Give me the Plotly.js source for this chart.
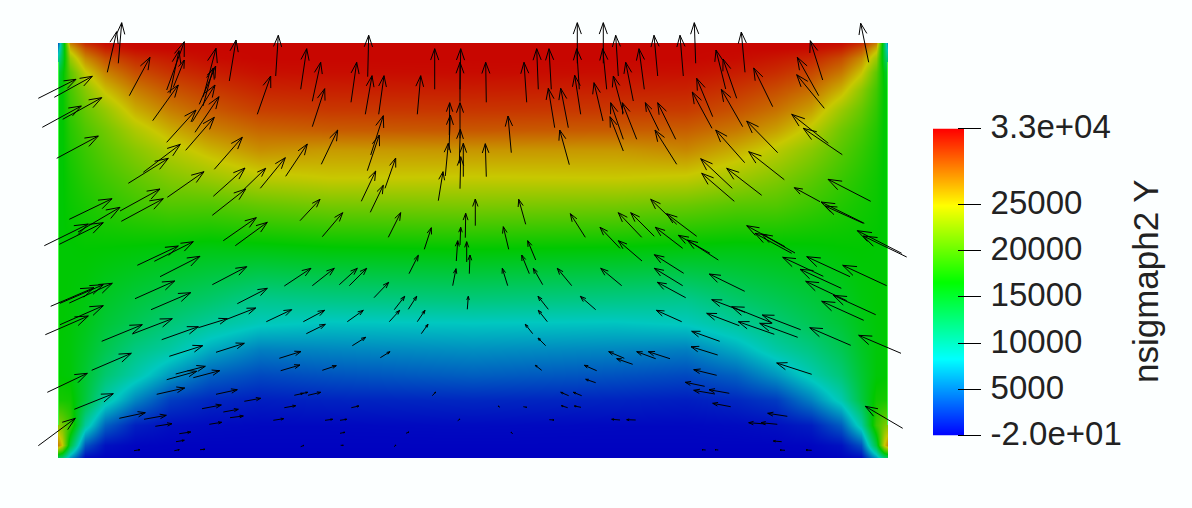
<!DOCTYPE html>
<html><head><meta charset="utf-8">
<script src="https://cdn.plot.ly/plotly-3.0.0.min.js"></script>
<style>html,body{margin:0;padding:0;background:#fcffff}</style></head>
<body><div id="chart" style="width:1192px;height:508px"></div>
<script>
// Field sample positions
const fieldX = [58,62,70,85,105,135,170,210,260,330,473,616,686,736,776,811,841,861,876,884,888];
const fieldY = [43,48,58,72,90,110,130,150,178,205,250,300,323,350,375,400,425,445,458];
// Field values in thousands, one list per column of fieldX, top to bottom
const col058 = [4,6,10,14,16,16.5,16.5,16.5,16.5,16.5,16.5,16.5,16.5,16.5,16.6,17.5,22.5,28,12];
const col062 = [13,13,14,16,16.5,16.5,16.5,16.5,16.5,16.5,16.5,16.5,16.5,16.4,16.5,17.5,21.5,25,11];
const col070 = [28,26,23,20.5,19.5,18.8,18.2,17.8,17.3,17,16.5,16.4,16.3,16.2,16.3,17.3,19,14,6];
const col085 = [31.5,30,27.5,24.7,22.2,20.8,19.8,19,18.3,17.6,16.6,16,15.6,15,14.5,14,9.8,3.5,0.3];
const col105 = [32.8,32,30,27.8,25.3,22.8,21.3,20.4,19.3,18.3,16.5,15,14.3,13.2,11.8,9.4,4,0.7,0.1];
const col135 = [33,32.8,31.5,30,28,26,23.8,22.2,20.6,19.2,16.3,14,13,11,9.3,5.5,1.3,0.2,0];
const col170 = [33,33,32.2,31.2,29.7,28,26,24,22,20,16,13,11.5,9.5,6.3,2.5,0.6,0.1,0];
const col210 = [33,33,32.8,32,30.8,29.5,27.8,25.7,23,20,15.7,12,10,7,4,1.6,0.4,0.1,0];
const col260 = [33,33,33,32.6,31.7,30.6,29,27.3,24.3,20.8,15.8,10.5,8.6,5.2,3,1.2,0.3,0.1,0];
const col330 = [33,33,33,32.7,31.9,30.9,29.4,26.8,24.9,21.5,16.2,10.8,8.1,5.5,3.4,1.4,0.3,0.1,0];
const col473 = [33,33,33,32.8,32,31,29.6,27,24.75,21.8,16.5,11.2,8.25,5.9,3.9,1.6,0.4,0.1,0];
const col616 = [33,33,33,32.7,31.9,30.9,29.4,26.9,24.9,21.5,16.2,10.8,8.1,5.5,3.4,1.4,0.3,0.1,0];
const col686 = [33,33,33,32.6,31.8,30.8,29.3,27.6,24.6,21,15.9,10.5,8.5,5.2,3,1.2,0.3,0.1,0];
const col736 = [33,33,32.8,32.1,31,29.8,28.2,26,23.3,20.2,15.8,12,10,7,4,1.6,0.4,0.1,0];
const col776 = [33,33,32.3,31.4,30,28.5,26.6,24.3,22,20,16,13,11.6,9.4,6.2,2.4,0.6,0.1,0];
const col811 = [33,32.8,31.7,30.3,28.6,26.6,24.3,22.3,20.5,19,16.2,14,13,11,9,5.3,1.2,0.2,0];
const col841 = [32.8,32,30.1,28.3,25.8,23,21.2,20.2,19,18,16.5,15,14.3,13,11.5,9,3.8,0.7,0.1];
const col861 = [31.5,30,27.5,25.2,22.4,20.8,19.6,18.8,18,17.4,16.6,16,15.6,15,14.4,13.8,9.5,3.3,0.3];
const col876 = [28,26,23,20.5,19.3,18.6,18,17.6,17.2,17,16.5,16.4,16.3,16.2,16.3,17.3,19,14,6];
const col884 = [13,13,14,16,16.5,16.5,16.5,16.5,16.5,16.5,16.5,16.5,16.5,16.4,16.5,17.5,21.5,25,11];
const col888 = [4,6,10,14,16,16.5,16.5,16.5,16.5,16.5,16.5,16.5,16.5,16.5,16.6,17.5,22.5,28,12];
const fieldColumns = [col058,col062,col070,col085,col105,col135,col170,col210,col260,col330,col473,col616,col686,col736,col776,col811,col841,col861,col876,col884,col888];

// Arrows: [tail x, tail y, tip x, tip y]
const arrows = [
[38.3,98.3,76,79.3],[54.3,97.3,92.3,76.3],[42.3,127.3,81.3,106],[62.7,119.3,101.7,97.7],[56.7,158.3,98.3,136],
[107.3,72.3,116.7,31.7],[118.3,63.3,121.7,22.7],[129.3,95.7,150,57.3],[166.7,90,184.3,41.7],[170,93.3,179,50.7],
[173.3,87.3,184.3,60],[152.7,120.7,178.3,85],[166.7,142.3,196,110],[185.7,150.3,214.3,117.3],[192.3,121.7,215,85],
[195,132.3,219,96.7],[199.3,104.3,215.7,66],[203.3,96.7,216,48.3],[203,106,213.3,68],[229.3,81,236,40],
[257.3,114.3,270.7,76],[275.7,76,278.3,35.3],[214.3,169.3,242.3,137.3],[143.3,172.3,180.3,144.3],[128.3,183.3,168.3,158.3],
[167.3,197.3,204,171.7],[213.3,196.3,245,168],[212.3,215.3,245.7,189],[243.3,190,265.7,168.3],[260.3,188.3,285.3,157.7],
[285.7,176.3,307.3,144],[69.3,219.3,112,198.7],[120,211,160,189],[121.3,221.3,163.3,198.7],[78,232,120,207.3],
[44.3,245.7,88.3,224],[59.3,244.3,103.3,222.7],[223.3,240.7,256.3,217.7],[235.3,245.7,267.3,222.3],[137.3,265.3,178.3,246],
[154.3,261.3,193.3,241.7],[160,276.7,200,256.3],[212.3,284.7,246.7,266.7],[284.3,286,311,268.3],[135,298.7,174.7,281],
[151,309.7,190.7,292.7],[237.3,303.7,267.3,288.3],[50.7,306.3,94,287.7],[60,303.3,103.3,284.7],[69.3,303,112.3,283.3],
[60,324.7,103.3,305.7],[45.3,334.7,88.3,316],[101.7,341.3,142.3,324.7],[132.3,334,172.3,318.7],[161.7,339.7,198.3,326.7],
[198.3,327.7,227.3,318.7],[226.7,319.3,255.7,308],[266.3,321.7,291.7,309.7],[169.3,356.3,202.7,345.7],[216,352.3,244.3,343.3],
[91.7,370.3,131.3,353.3],[47.3,392.3,87.3,373.3],[74.3,409.3,113.3,393.7],[38.3,445.7,75.3,418.3],[166.7,379.7,196.7,371.3],
[175.7,374,205.3,366.3],[193.3,377.7,219.7,370.7],[156.7,394.3,184.7,388],[216,394.3,237.3,389.7],[244.3,401.3,260.7,398.3],
[279.3,358.3,301,351.5],[280.7,370.7,300,365],[119.3,418.3,145.3,412.7],[144,419.3,166.3,415.3],[202,408.7,221.3,405],
[223.3,412,238.3,409.3],[230,417.7,243.3,416],[155.3,426.3,172,423.7],[209.3,424.3,221.7,422.3],[179.3,433.7,190.7,432],
[176,441.7,184.3,440.3],[134,450.7,140,449.7],[174.3,450.7,179.3,449.7],[200,449.7,205,449.3],[273.3,420.3,283.7,418.7],
[284.3,407.7,295.7,405.7],[294.3,395.3,303.3,393.3],
[300.7,89.3,306.7,48.7],[312.3,101.3,320.7,62.3],[312.3,126.7,324.7,88.7],[351,102.3,356.7,62.3],[367.7,76.7,368.7,35.3],
[365.3,114.3,372,75.7],[378.7,114.3,384,75.7],[417.3,114.3,420.7,75.7],[434.7,89.3,434.7,48.7],[460,89.3,460.7,48.7],
[460,101.7,460,62.3],[486.3,102.3,485.7,62.3],[526.7,102.3,524,62.3],[538.3,89.3,536.7,48.7],[551.3,89.3,549,48.7],
[580.7,114.3,574.7,75.3],[579.3,89.3,576.7,48.7],[577.3,63.3,577.3,22.7],[554.7,127.7,548.3,88.3],[568.3,127.7,560.7,88.3],
[603,121,594,82.7],[321.3,164.3,337.7,130],[367.3,170.7,379.3,135],[370.7,155,383.3,115.7],[361.3,201.3,375.7,171],
[385,188.3,395.7,158],[370.3,212.3,383.3,185.3],[300,220.7,320,199.3],[322.3,236.7,342.7,212.7],[388.3,237.3,400.7,212.7],
[424.3,249.3,431.3,227.7],[438.3,200.7,443,171.7],[445.3,176,448.3,143.3],[449,150,450.3,115],[449.3,135,449.7,102.7],
[460,138.3,460,102.7],[460,188.7,460.7,156.7],[463.3,176.7,463.3,143.3],[459.3,163.3,460.3,129.3],[486.3,176.7,485.3,143.7],
[511.3,152.7,508,116],[569.3,164.7,559.7,130],[475.3,225.7,475.3,199],[465.3,237.7,465.7,213.3],[525.7,224.3,518.7,199.3],
[585.3,237.3,570.3,213.7],[508.7,249.3,503.3,226.7],[460,245,460.7,227.3],[456.3,261,457.7,240.7],[466.7,262,466.7,241.7],
[535.7,260,527.7,240.7],
[312.3,285.7,334.3,268.3],[339.3,284.7,357.3,268.3],[349.3,285.7,366.7,268.3],[409,273.7,418.3,255.3],[452.7,285.7,456,268.7],
[469.3,273.7,470,255],[529.3,273.7,521.7,255],[507.7,285.7,502.3,268.3],[542.7,284.7,533.3,268.3],[571.7,285.7,557.3,268.3],
[374,297.7,388.7,282.3],[394.3,309.7,404.7,296.3],[408.3,309.3,416.7,296.3],[467.3,309.3,468.3,296.3],[548.3,309.3,538,296.3],
[595.7,309.7,580.3,296.3],[303.3,321.7,324.7,310.3],[347.3,321.7,363.3,310.3],[389.3,321.7,399.7,310.3],[417.3,321.7,425,310.3],
[547.3,321.7,538.3,310.3],[306.3,333.7,325.3,324.3],[421.3,333.7,428,324.3],[532.7,333.7,525.3,324.3],[352.3,345.7,365.7,337.3],
[545.7,345.7,538,338],[380.3,357.7,390,351.7],[322.3,370.3,336.3,365.7],[541.7,370.3,535.3,365.3],[596.7,370.7,584.3,365.3],
[595.7,382.7,585.7,379.3],[308,395.3,320.7,392.3],[300,394,307.7,392.3],[432.3,395.7,435.7,392],[568.7,395.7,560.7,392.3],
[581.7,395.7,573.3,392.3],[351.3,407.7,359,406],[567.7,407.7,561.3,405.7],[581,407.3,574.3,406],[325,420.3,332.7,419.3],
[340,420.3,346.7,419.3],[549.3,419.7,554,420],[340,433.3,345,432.3],[406,433.3,409,432],[457.7,420.7,460,419],
[512.7,434,511,432],[523.3,406.7,526.7,407.3],[500,407.3,498,406],[394,446.7,396,445],[340.7,445.3,343.3,445.3],[300.7,446.7,304,445.3],
[603.3,63.3,603.3,22.7],[606.7,89.3,602.7,48.7],[618.3,76,615.7,35.3],[633.3,101,625.7,62.3],[644.3,89.3,639,48.7],
[657.7,76,654,35.3],[683.3,76,680,35.3],[695.7,63.3,694.3,22.7],[745,72.3,741.3,32],[822.7,80,810.3,40.7],
[868.7,62.3,860.7,23.3],[725.7,89,716,50],[736.7,98.3,723,59],[772.7,106.7,753.7,68],[818.7,95.7,797.3,57.3],
[824.3,108.3,796.7,74.7],[712.7,116.7,696.7,78.3],[712,128.3,692.3,92],[742.7,126.7,721.3,89.3],[623.3,113.3,613.3,76],
[623.3,139.3,610.7,102.7],[636.7,139.3,622.3,102.7],[623.3,151,610,116.7],[659,130.7,645.3,102.7],[675.7,139.3,657.7,102.7],
[676.7,164.3,655,130],[777.7,152.7,746.7,121],[744.7,162.7,715.7,130],[784.3,179.7,748.7,151.7],[828.3,143.3,791.7,114.3],
[842.3,154.7,803.3,128.3],[732.3,188.3,700.7,158.7],[734.3,201.3,701.7,173.3],[761.7,195.3,726.7,168.3],[870.7,201.3,828,179.3],
[820,201.7,794.3,187.7],[864.3,223.3,821,202],[863.3,223.3,825,206],[676.7,224.3,650.7,199.3],[696.7,236.3,666.7,213.7],
[654.3,236.3,630.7,212.7],[641.7,237.3,618.3,212.7],[620,248.3,600,227.3],[682.7,248.3,655.3,227.3],[642,261,618.3,240.7],
[901.7,253.3,857.3,230.7],[906.7,257,863.3,236],[785,246.7,746.7,225.7],[791.7,253.3,755,233.3],[795,253,761.7,234],
[710,253.3,678.3,235.3],[718.3,260,687.3,240],
[621.7,285.7,600.7,268.3],[683.7,273.3,654.3,254.7],[682.7,285.7,654.3,268.3],[685.7,297.7,657.3,282.3],[744.7,291.3,709.3,274],
[681.7,321.7,656.3,310.3],[772.3,323,731.7,306.7],[745,312.3,711.7,299.7],[739.3,325.7,706.7,313.3],[774.3,334.3,738.3,321.7],
[800.7,329.7,762.3,315],[797.7,337.3,759.7,323.3],[719.7,341.3,691.7,331.3],[717.7,355,691,346.7],[716.7,375.3,693.7,369.7],
[850.7,345.3,809.7,327.7],[901,353.3,858.7,335.3],[811.7,374.3,776.7,363],[863.7,320.3,821.7,301.3],[875.7,314.7,833.3,295.3],
[850,276.7,806.7,256.7],[886.7,285.7,842.7,265.3],[823.3,276.3,782.7,257.3],[841.3,288.3,800,269.3],[846.7,300.7,805.7,281.3],
[670,358.7,648.3,351.7],[655.7,358.7,636.7,351.7],[624.3,358.3,608.7,351.7],[632.7,364.3,616.7,358.7],[704.7,386.3,685.3,382.3],
[729.3,393.3,709,389.7],[715,394,693.7,390.3],[730.7,406.7,712.7,403.3],[902.7,428.3,865.3,406.3],[787.3,416.3,767.7,413.3],
[777.3,424.3,761,422.7],[765.7,424,748.7,422.7],[781.7,441.7,773.3,441],[785,450.3,780,450],[811.7,450.3,806,450],
[620,420,611.7,419.3],[635.7,420,626.7,419.7],[705.7,450,702,449.7],[718.3,450,715,449.7]
];

// Bright rim along the two side edges of the field
const rimX = [58.5,58.5,null,887.5,887.5];
const rimY = [62,425,null,62,425];

// Colour scale
const scaleMin = -20, scaleMax = 33240;
const rampValues = [scaleMin, scaleMax];
const tickValues = [scaleMin,5000,10000,15000,20000,25000,scaleMax];
const tickLabels = ['-2.0e+01','5000','10000','15000','20000','25000','3.3e+04'];
const barColors = [[0,'rgb(0,0,255)'],[0.25,'rgb(0,255,255)'],[0.5,'rgb(0,255,0)'],[0.75,'rgb(255,255,0)'],[1,'rgb(255,0,0)']];
const litColors = [[0,'rgb(0,0,192)'],[0.25,'rgb(0,200,192)'],[0.5,'rgb(0,200,0)'],[0.75,'rgb(200,200,0)'],[1,'rgb(200,0,0)']];

const W = 1192, H = 508;
const FONT = '"Liberation Sans", Arial, sans-serif';
const ax = [], ay = [];
const HEAD_BACK = 0.28, HEAD_HALF = 0.10;
for (const [tx, ty, hx, hy] of arrows) {
  const dx = tx - hx, dy = ty - hy;
  const bx = hx + dx * HEAD_BACK, by = hy + dy * HEAD_BACK;
  ax.push(tx, hx, bx - dy * HEAD_HALF, null, hx, bx + dy * HEAD_HALF, null);
  ay.push(ty, hy, by + dx * HEAD_HALF, null, hy, by - dx * HEAD_HALF, null);
}

const traces = [
  {type:'heatmap', x:fieldX, y:fieldY, z:fieldColumns.map(c => c.map(v => v * 1000)), transpose:true,
   zsmooth:'best', zmin:scaleMin, zmax:scaleMax, colorscale:litColors, showscale:false, hoverinfo:'skip'},
  {type:'heatmap', x:[0,1], y:rampValues, z:[rampValues,rampValues], transpose:true, xaxis:'x2', yaxis:'y2',
   zsmooth:'best', zmin:scaleMin, zmax:scaleMax, colorscale:barColors, showscale:false, hoverinfo:'skip'},
  {type:'scatter', mode:'lines', x:rimX, y:rimY, xaxis:'x3', yaxis:'y3',
   line:{color:'rgb(70,255,70)', width:1}, hoverinfo:'skip', showlegend:false},
  {type:'scatter', mode:'lines', x:ax, y:ay, xaxis:'x3', yaxis:'y3',
   line:{color:'#000', width:1}, hoverinfo:'skip', showlegend:false}
];

const layout = {
  width:W, height:H, margin:{l:0,r:0,t:0,b:0}, showlegend:false,
  paper_bgcolor:'#fcffff', plot_bgcolor:'rgba(0,0,0,0)',
  font:{family:FONT, color:'#222'},
  xaxis:{domain:[58/W,888/W], range:[58,888], visible:false, fixedrange:true},
  yaxis:{domain:[1-458/H,1-43/H], range:[458,43], visible:false, fixedrange:true},
  xaxis2:{domain:[933/W,964/W], range:[0,1], visible:false, anchor:'y2', fixedrange:true},
  yaxis2:{domain:[1-435.5/H,1-128.5/H], range:[scaleMin,scaleMax], anchor:'free', position:957/W, side:'right',
    showgrid:false, zeroline:false, showline:false, ticks:'outside', ticklen:23, tickwidth:1, tickcolor:'#000',
    tickmode:'array', tickvals:tickValues, ticktext:tickLabels, ticklabelstandoff:3, ticklabelshift:-2,
    tickfont:{size:33, color:'#222', family:FONT}, fixedrange:true},
  xaxis3:{domain:[0,1], range:[0,W], visible:false, anchor:'y3', fixedrange:true},
  yaxis3:{domain:[0,1], range:[H,0], visible:false, anchor:'x3', fixedrange:true},
  annotations:[{text:'nsigmaph2 Y', xref:'paper', yref:'paper', x:1145/W, y:1-281/H, xanchor:'center', yanchor:'middle',
    textangle:-90, showarrow:false, font:{size:35, color:'#222', family:FONT}}]
};
Plotly.newPlot('chart', traces, layout, {staticPlot:true, displayModeBar:false});
</script></body></html>
